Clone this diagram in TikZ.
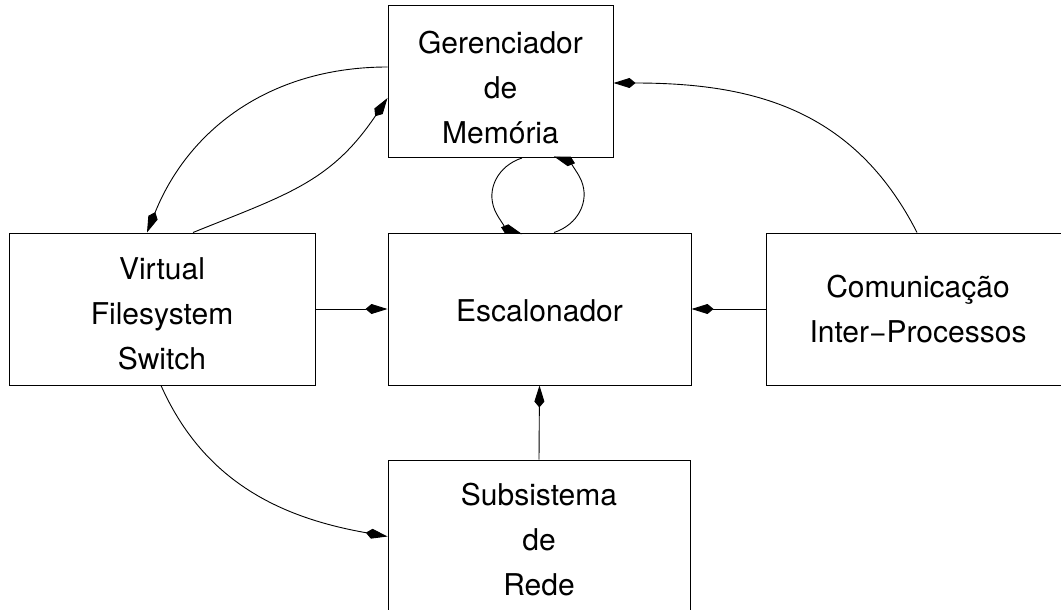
\documentclass[tikz,border=0pt]{standalone}
\usepackage{fontspec}
\setmainfont{TeX Gyre Heros}
\usetikzlibrary{arrows.meta}
\begin{document}
\begin{tikzpicture}[x=1pt, y=1pt,
  box/.style={draw, line width=1pt, minimum height=152pt, inner sep=0pt},
  boxtext/.style={align=center, inner sep=0pt, font=\fontsize{30}{45}\selectfont},
  link/.style={line width=0.9pt, -{Kite[length=22pt, width=10pt, inset=6pt]}}]
\useasboundingbox (0,0) rectangle (1061,-610);
\clip (0,0) rectangle (1061,-610);

% modules
\node[box, minimum width=225pt,
  label={[boxtext, yshift=-6pt]center:{Gerenciador\\de\\Memória}}] (ger) at (500.5,-81.5) {};
\node[box, minimum width=306pt,
  label={[boxtext, yshift=-5pt]center:{Virtual\\Filesystem\\Switch}}] (vfs) at (162,-309) {};
\node[box, minimum width=303pt,
  label={[boxtext, yshift=-2pt]center:{Escalonador}}] (esc) at (539.5,-309) {};
\node[box, minimum width=304pt,
  label={[boxtext]center:{Comunicação\\Inter−Processos}}] (com) at (918,-309) {};
\node[box, minimum width=302pt, minimum height=153pt,
  label={[boxtext, yshift=-3pt]center:{Subsistema\\de\\Rede}}] (sub) at (539,-536.5) {};

% curved links
\draw[link] (ger.west |- 0,-67) to[out=180, in=68] (147,0 |- vfs.north);
\draw[link] (193,0 |- vfs.north) to[out=22, in=236, looseness=1.1] (ger.west |- 0,-98);
\draw[link] (917,0 |- com.north) to[out=117, in=0, looseness=1.05] (ger.east |- 0,-83);
\draw[link] (161,0 |- vfs.south) to[out=-66, in=170] (sub.west);

% loop between memory manager and scheduler
\draw[link] (522,0 |- ger.south) arc[start angle=110.2, end angle=249.8, x radius=46pt, y radius=40.5pt];
\draw[link] (554,0 |- esc.north) arc[start angle=-69.8, end angle=69.8, x radius=46pt, y radius=40.5pt];

% straight links
\draw[link] (vfs.east) -- (esc.west);
\draw[link] (com.west) -- (esc.east);
\draw[link] (sub.north) -- (esc.south);
\end{tikzpicture}
\end{document}
